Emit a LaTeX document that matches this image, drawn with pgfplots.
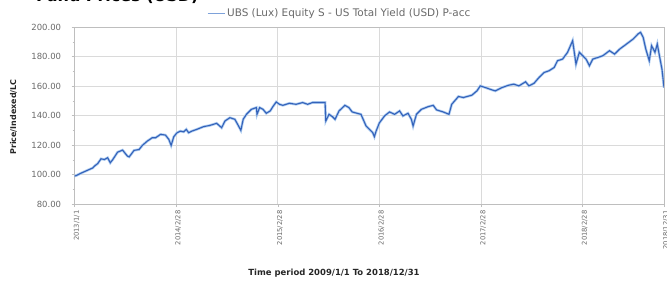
\documentclass[border=0pt]{standalone}
\usepackage{fontspec}
\setmainfont{DejaVu Sans}
\usepackage{pgfplots}
\usepackage{pgfplotstable}
\pgfplotsset{compat=1.18}
\definecolor{lineblue}{RGB}{52,98,186}
\definecolor{halo}{RGB}{175,205,240}
\definecolor{gridc}{RGB}{218,218,218}
\definecolor{axisc}{RGB}{190,190,190}
\definecolor{tickc}{RGB}{105,105,105}
\pgfplotstableread{
u v
0.000 99.0
0.016 99.3
0.065 101.0
0.130 103.0
0.179 104.5
0.195 105.7
0.228 107.5
0.260 110.7
0.293 110.2
0.325 111.4
0.351 108.0
0.374 110.0
0.423 115.2
0.472 116.6
0.520 112.5
0.537 112.0
0.585 116.4
0.634 117.0
0.667 119.8
0.715 122.7
0.764 125.0
0.797 125.0
0.846 127.3
0.894 126.8
0.927 123.9
0.950 119.8
0.976 125.7
1.008 128.4
1.041 129.5
1.073 129.0
1.099 130.7
1.122 128.4
1.154 129.5
1.203 130.7
1.268 132.5
1.333 133.4
1.398 134.8
1.447 131.8
1.480 136.4
1.528 138.6
1.577 137.5
1.610 133.4
1.636 130.0
1.659 137.5
1.691 140.9
1.740 144.3
1.789 145.5
1.795 140.9
1.821 145.5
1.854 144.3
1.886 141.6
1.925 143.2
1.951 146.1
1.984 149.3
2.016 147.7
2.049 147.0
2.114 148.4
2.179 147.7
2.244 148.9
2.293 147.7
2.341 148.9
2.390 148.9
2.439 148.9
2.465 148.9
2.472 136.4
2.504 140.9
2.537 139.3
2.563 137.5
2.602 143.2
2.660 147.0
2.699 145.5
2.732 142.5
2.780 141.6
2.818 140.9
2.868 133.0
2.901 130.7
2.934 128.4
2.950 125.7
2.967 129.5
3.000 135.2
3.050 139.8
3.099 142.5
3.149 140.9
3.198 143.2
3.231 139.8
3.281 141.6
3.314 137.5
3.331 133.0
3.364 140.9
3.413 144.3
3.479 146.1
3.529 147.0
3.562 143.9
3.628 142.5
3.684 140.9
3.711 147.7
3.777 153.0
3.826 152.3
3.909 153.9
3.959 156.8
3.992 160.2
4.041 159.1
4.107 157.5
4.140 156.8
4.207 159.1
4.273 160.7
4.322 161.4
4.372 160.2
4.438 163.0
4.471 160.2
4.521 162.0
4.570 165.9
4.620 169.3
4.669 170.5
4.719 172.7
4.752 177.3
4.802 178.4
4.851 183.0
4.901 190.9
4.934 175.0
4.967 183.0
5.000 180.7
5.033 178.4
5.066 173.9
5.099 178.4
5.149 179.5
5.198 180.7
5.264 184.1
5.314 181.8
5.364 185.2
5.430 188.6
5.496 192.0
5.545 195.5
5.569 196.6
5.595 193.2
5.621 185.2
5.655 177.3
5.678 187.5
5.711 183.0
5.734 188.6
5.755 180.7
5.780 171.6
5.800 159.1
}\pricedata
\begin{document}
\begin{tikzpicture}
\useasboundingbox (0,0) rectangle (667bp,284bp);
\begin{axis}[
  at={(74.6bp,80bp)}, anchor=south west,
  scale only axis, width=589.4bp, height=176.7bp,
  xmin=0, xmax=5.8, ymin=80, ymax=200,
  ytick={80,100,...,200},
  minor y tick num=1,
  xtick={0,1,2,3,4,5,5.8},
  xticklabels={2013/1/1,2014/2/28,2015/2/28,2016/2/28,2017/2/28,2018/2/28,2018/12/31},
  grid=major,
  grid style={gridc, line width=0.7bp},
  axis line style={axisc, line width=0.8bp},
  tick style={axisc, line width=0.6bp},
  tick align=outside,
  major tick length=3bp, minor tick length=2bp,
  xtick pos=bottom, ytick pos=left,
  /pgf/number format/assume math mode=true,
  yticklabel={\pgfmathprintnumber[fixed,fixed zerofill,precision=2]{\tick}},
  yticklabel style={font=\fontsize{8.5}{9}\selectfont, text=tickc, xshift=-7bp},
  xticklabel style={font=\fontsize{6.8}{8}\selectfont, text=tickc, rotate=90, anchor=east, yshift=-2bp},
  legend style={at={(0.45,1.081)}, anchor=center, draw=none, fill=none,
    font=\fontsize{10.5}{11}\selectfont, text=tickc, inner sep=0pt},
  legend image post style={halo!60!lineblue, line width=0.8bp},
]
\addplot[halo, line width=2.6bp, forget plot] table[x=u,y=v] {\pricedata};
\addplot[lineblue, line width=1.1bp] table[x=u,y=v] {\pricedata};
\addlegendentry{UBS (Lux) Equity S - US Total Yield (USD) P-acc}
\end{axis}
\node[rotate=90, font=\bfseries\fontsize{8}{9}\selectfont, text=black!85] at (13.5bp,167bp) {Price/Indexed/LC};
\node[font=\bfseries\fontsize{8.5}{10}\selectfont, text=black!85] at (334bp,11bp) {Time period 2009/1/1 To 2018/12/31};
\node[font=\bfseries\fontsize{16}{18}\selectfont, anchor=base west, inner sep=0pt] at (36bp,282.5bp) {Fund Prices (USD)};
\end{tikzpicture}
\end{document}
